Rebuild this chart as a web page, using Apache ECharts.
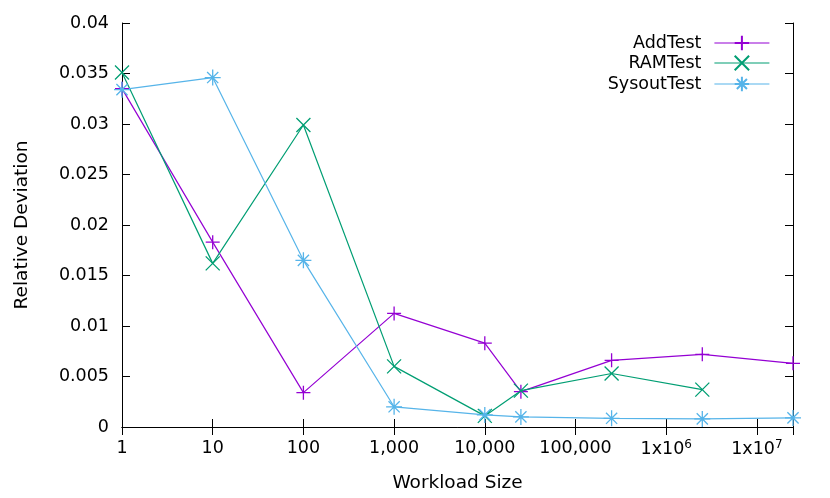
<!DOCTYPE html>
<html>
<head>
<meta charset="utf-8">
<script src="https://cdn.jsdelivr.net/npm/echarts@6/dist/echarts.min.js"></script>
<style>
html,body{margin:0;padding:0;background:#fff;}
#c{width:830px;height:498px;}
</style>
</head>
<body>
<div id="c"></div>
<script>
const xValues = [1, 10, 100, 1000, 10000, 25000, 250000, 2500000, 25000000];
const addTest = [0.0335, 0.0183, 0.0034, 0.01125, 0.0083, 0.0035, 0.0066, 0.0072, 0.0063];
const ramTest = [0.0351, 0.0162, 0.0299, 0.0060, 0.0011, 0.0036, 0.0053, 0.0037];
const sysoutTest = [0.0334, 0.0346, 0.0165, 0.0020, 0.0012, 0.0010, 0.00086, 0.0008, 0.0009];
const seriesNames = ['AddTest', 'RAMTest', 'SysoutTest'];

const colors = ['#9400d3', '#009e73', '#56b4e9'];
const symbols = [
  'path://M0,5L10,5M5,0L5,10',
  'path://M0,0L10,10M0,10L10,0',
  'path://M0,5L10,5M5,0L5,10M1.5,1.5L8.5,8.5M1.5,8.5L8.5,1.5'
];
const symbolSizes = [14, 14, 16];
const FONT = 'DejaVu Sans';
const FS = 17.5;
const FSN = 18.5;

function pairs(arr) { return arr.map((v, i) => [xValues[i], v]); }
const allData = [addTest, ramTest, sysoutTest];

function xLabel(v) {
  const e = Math.round(Math.log10(v));
  if (Math.abs(v - Math.pow(10, e)) > 1e-6 * v) return '';
  if (e <= 5) return Math.pow(10, e).toLocaleString('en-US');
  return '1x10{sup|' + e + '}';
}

const xCommon = {
  type: 'log', logBase: 10, min: 1, max: 25000000,
  axisLine: { show: true, lineStyle: { color: '#000', width: 1 } },
  axisTick: { show: true, inside: true, length: 8, lineStyle: { color: '#000' } },
  splitLine: { show: false }, minorTick: { show: false }
};
const yCommon = {
  type: 'value', min: 0, max: 0.04, interval: 0.005,
  axisLine: { show: true, lineStyle: { color: '#000', width: 1 } },
  axisTick: { show: true, inside: true, length: 8, lineStyle: { color: '#000' } },
  splitLine: { show: false }
};

const legendRowsTop = [34, 54, 75];

const option = {
  backgroundColor: '#fff',
  animation: false,
  grid: { left: 122, right: 37, top: 23, bottom: 70, containLabel: false },
  xAxis: [
    Object.assign({}, xCommon, {
      position: 'bottom',
      name: 'Workload Size', nameLocation: 'middle', nameGap: 47,
      nameTextStyle: { fontFamily: FONT, fontSize: FSN, color: '#000' },
      axisLabel: {
        formatter: xLabel, margin: 12, fontFamily: FONT, fontSize: FS, color: '#000',
        showMinLabel: true, showMaxLabel: true, hideOverlap: false,
        rich: { sup: { fontFamily: FONT, fontSize: 12, color: '#000', verticalAlign: 'top', padding: [0, 0, 8, 0] } }
      }
    }),
    Object.assign({}, xCommon, { position: 'top', axisLabel: { show: false } })
  ],
  yAxis: [
    Object.assign({}, yCommon, {
      position: 'left',
      name: 'Relative Deviation', nameLocation: 'middle', nameGap: 90, nameRotate: 90,
      nameTextStyle: { fontFamily: FONT, fontSize: FSN, color: '#000' },
      axisLabel: {
        margin: 13, fontFamily: FONT, fontSize: FS, color: '#000',
        formatter: v => String(parseFloat(v.toFixed(4)))
      }
    }),
    Object.assign({}, yCommon, { position: 'right', axisLabel: { show: false } })
  ],
  legend: seriesNames.map((n, i) => ({
    data: [n], orient: 'vertical', right: 60, top: legendRowsTop[i], align: 'right',
    itemWidth: 55, itemHeight: 18, padding: 0,
    lineStyle: { width: 1.2 },
    textStyle: { fontFamily: FONT, fontSize: FS, color: '#000', padding: [0, 8, 0, 0] }
  })),
  series: seriesNames.map((n, i) => ({
    name: n, type: 'line', data: pairs(allData[i]),
    symbol: symbols[i], symbolSize: symbolSizes[i], clip: false,
    lineStyle: { color: colors[i], width: 1.2 },
    itemStyle: { color: colors[i], borderColor: colors[i], borderWidth: 1.3 },
    emphasis: { disabled: true }
  }))
};

const chart = echarts.init(document.getElementById('c'), null, { renderer: 'canvas' });
chart.setOption(option);
</script>
</body>
</html>
